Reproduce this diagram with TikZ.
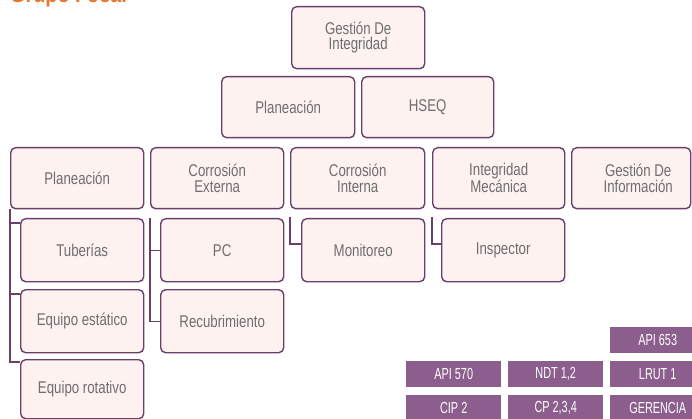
\documentclass[tikz,border=0pt]{standalone}
\usepackage{fontspec}
\setmainfont{Liberation Sans}
\newfontfamily\boxfont[FakeStretch=0.78]{Liberation Sans}
\newfontfamily\tagfont[FakeStretch=0.68]{Liberation Sans}
\newfontfamily\ttlfont[FakeStretch=0.9]{Liberation Sans}
\definecolor{boxline}{HTML}{6A3F6C}
\definecolor{boxfill}{HTML}{FDF2EF}
\definecolor{boxtext}{HTML}{6E6E6E}
\definecolor{tagfill}{HTML}{8B5E8D}
\definecolor{ttlorange}{HTML}{E8772E}
\tikzset{
  orgbox/.style={draw=boxline, fill=boxfill, rounded corners=5pt, line width=1.4pt,
    text=boxtext, font=\boxfont\fontsize{17}{15.5}\selectfont, align=center,
    inner sep=0pt, anchor=north west, minimum height=#1},
  orgbox/.default=61pt,
  tagbox/.style={fill=tagfill, text=white, font=\tagfont\fontsize{16}{16}\selectfont,
    inner sep=0pt, anchor=north west, minimum width=95pt, minimum height=#1},
  tagbox/.default=26pt,
  conn/.style={draw=boxline, line width=1.1pt}
}
\begin{document}
\begin{tikzpicture}[x=1pt,y=-1pt]
\useasboundingbox (0,0) rectangle (692,419);
\clip (0,0) rectangle (692,419);
\fill[white] (0,0) rectangle (692,419);
% title, cropped at the top edge as in the reference
\node[anchor=base west, inner sep=0pt, text=ttlorange, font=\ttlfont\bfseries\fontsize{22}{24}\selectfont] (ttl) at (10,2.5) {Grupo Focal};
% level 1
\node[orgbox=62pt, minimum width=133pt] (top) at (291,6) {Gestión De\\Integridad};
% level 2
\node[orgbox, minimum width=133pt] (plan2) at (221,76) {Planeación};
\node[orgbox, minimum width=132pt] (hseq) at (361,76) {HSEQ};
% level 3
\node[orgbox, minimum width=133pt] (p3) at (10,147) {Planeación};
\node[orgbox, minimum width=133pt] (ce) at (150,147) {Corrosión\\Externa};
\node[orgbox, minimum width=134pt] (ci) at (290,147) {Corrosión\\Interna};
\node[orgbox, minimum width=132pt] (im) at (432,147) {Integridad\\Mecánica};
\node[orgbox, minimum width=119pt] (gi) at (571,147) {\hspace*{14pt}Gestión De\\\hspace*{14pt}Información};
% level 4
\node[orgbox=63pt, minimum width=123pt] (tub) at (20,218) {Tuberías};
\node[orgbox=63pt, minimum width=123pt] (eqe) at (20,289) {Equipo estático};
\node[orgbox=59pt, minimum width=123pt] (eqr) at (20,359) {Equipo rotativo};
\node[orgbox=63pt, minimum width=123pt] (pc) at (160,218) {PC};
\node[orgbox=63pt, minimum width=123pt] (rec) at (160,289) {Recubrimiento};
\node[orgbox=63pt, minimum width=123pt] (mon) at (301,218) {Monitoreo};
\node[orgbox=63pt, minimum width=123pt] (ins) at (441,218) {Inspector};
% connectors: Planeación
\coordinate (t1) at ([yshift=-5pt]tub.north west);
\coordinate (t2) at ([yshift=-5pt]eqe.north west);
\coordinate (t3) at ([yshift=-3pt]eqr.north west);
\draw[conn] (p3.south west) -- (p3.south west |- t3) -- (t3);
\draw[conn] (t1) -- (t1 -| p3.west);
\draw[conn] (t2) -- (t2 -| p3.west);
% Corrosión Externa
\coordinate (ces) at ([yshift=-9pt]ce.south west);
\draw[conn] (ces) |- (rec.west);
\draw[conn] (pc.west) -- (pc.west -| ce.west);
% Corrosión Interna
\coordinate (cis) at ([yshift=-8pt]ci.south west);
\coordinate (m1) at ([yshift=-26pt]mon.north west);
\draw[conn] (cis) |- (m1);
% Integridad Mecánica
\coordinate (ims) at ([yshift=-8pt]im.south west);
\coordinate (i1) at ([yshift=-26pt]ins.north west);
\draw[conn] (ims) |- (i1);
% tags
\node[tagbox] (api653) at (610,327) {API 653};
\node[tagbox] (api570) at (406,361) {API 570};
\node[tagbox] (ndt) at (508,361) {NDT 1,2};
\node[tagbox] (lrut) at (610,361) {LRUT 1};
\node[tagbox] (cip2) at (406,395) {CIP 2};
\node[tagbox] (cp234) at (508,395) {CP 2,3,4};
\node[tagbox] (ger) at (610,395) {GERENCIA};
\end{tikzpicture}
\end{document}
